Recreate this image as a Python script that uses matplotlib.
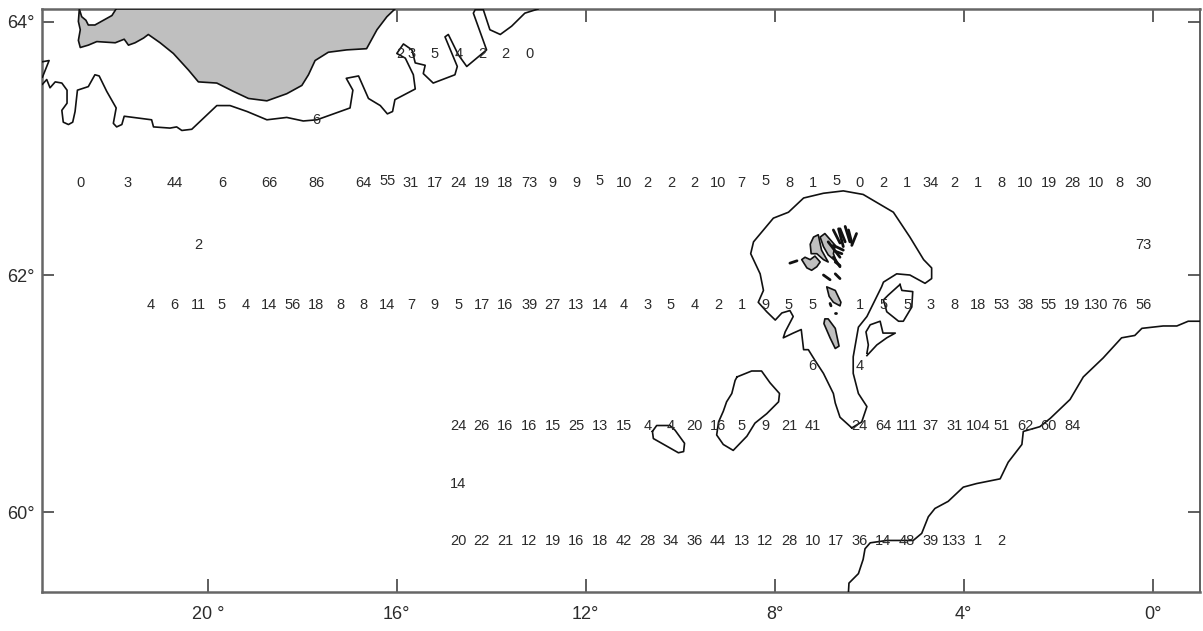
"""Station counts on a map of the Iceland-Faroe-Shetland area."""
import matplotlib
matplotlib.use("Agg")
import matplotlib.pyplot as plt

plt.rcParams["font.family"] = ["Liberation Sans", "DejaVu Sans"]

# y is map northing: the chart's latitude scale is stretched towards the north,
# so the 64 degree tick does not sit at exactly 64.
XTICKS = [20, 16, 12, 8, 4, 0]
XTICK_LABELS = ["20 °", "16°", "12°", "8°", "4°", "0°"]
YTICKS = [60, 62, 64.137]
YTICK_LABELS = ["60°", "62°", "64°"]

# ---- station rows ----
row1_lon = [22.7, 21.7, 20.7, 19.7, 18.7, 17.7, 16.7, 16.2, 15.7, 15.2, 14.7, 14.2, 13.7, 13.2, 12.7, 12.2,
            11.7, 11.2, 10.7, 10.2, 9.7, 9.2, 8.7, 8.2, 7.7, 7.2, 6.7, 6.2, 5.7, 5.2, 4.7, 4.2,
            3.7, 3.2, 2.7, 2.2, 1.7, 1.2, 0.7, 0.2]
row1_lat = [62.78, 62.78, 62.78, 62.78, 62.78, 62.78, 62.78, 62.79, 62.78, 62.78, 62.78, 62.78, 62.78, 62.78, 62.78, 62.78,
            62.79, 62.78, 62.78, 62.78, 62.78, 62.78, 62.78, 62.79, 62.78, 62.78, 62.79, 62.78, 62.78, 62.78, 62.78, 62.78,
            62.78, 62.78, 62.78, 62.78, 62.78, 62.78, 62.78, 62.78]
row1_val = [0, 3, 44, 6, 66, 86, 64, 55, 31, 17, 24, 19, 18, 73, 9, 9,
            5, 10, 2, 2, 2, 10, 7, 5, 8, 1, 5, 0, 2, 1, 34, 2,
            1, 8, 10, 19, 28, 10, 8, 30]

row2_lon = [21.2, 20.7, 20.2, 19.7, 19.2, 18.7, 18.2, 17.7, 17.2, 16.7, 16.2, 15.7, 15.2, 14.7, 14.2, 13.7,
            13.2, 12.7, 12.2, 11.7, 11.2, 10.7, 10.2, 9.7, 9.2, 8.7, 8.2, 7.7, 7.2, 6.2, 5.7, 5.2,
            4.7, 4.2, 3.7, 3.2, 2.7, 2.2, 1.7, 1.2, 0.7, 0.2]
row2_lat = 61.75
row2_val = [4, 6, 11, 5, 4, 14, 56, 18, 8, 8, 14, 7, 9, 5, 17, 16,
            39, 27, 13, 14, 4, 3, 5, 4, 2, 1, 9, 5, 5, 1, 5, 5,
            3, 8, 18, 53, 38, 55, 19, 130, 76, 56]

row3_lon = [14.7, 14.2, 13.7, 13.2, 12.7, 12.2, 11.7, 11.2, 10.7, 10.2, 9.7, 9.2, 8.7, 8.2, 7.7, 7.2,
            6.2, 5.7, 5.2, 4.7, 4.2, 3.7, 3.2, 2.7, 2.2, 1.7]
row3_lat = 60.73
row3_val = [24, 26, 16, 16, 15, 25, 13, 15, 4, 4, 20, 16, 5, 9, 21, 41,
            24, 64, 111, 37, 31, 104, 51, 62, 60, 84]

row4_lon = [14.7, 14.2, 13.7, 13.2, 12.7, 12.2, 11.7, 11.2, 10.7, 10.2, 9.7, 9.2, 8.7, 8.2, 7.7, 7.2,
            6.7, 6.2, 5.7, 5.2, 4.7, 4.2, 3.7, 3.2]
row4_lat = 59.755
row4_val = [20, 22, 21, 12, 19, 16, 18, 42, 28, 34, 36, 44, 13, 12, 28, 10,
            17, 36, 14, 48, 39, 133, 1, 2]

top_lon = [15.93, 15.68, 15.2, 14.7, 14.2, 13.7, 13.2]
top_lat = 63.865
top_val = [2, 3, 5, 4, 2, 2, 0]

extra_lon = [20.2, 0.2, 7.2, 6.2, 14.7, 17.7]
extra_lat = [62.25, 62.25, 61.23, 61.23, 60.24, 63.31]
extra_val = [2, 73, 6, 4, 14, 6]

# ---- land ----
iceland_lon = [22.72, 22.67, 22.58, 22.53, 22.39, 22.21, 22.03, 21.95, 21.95, 16.04, 16.21, 16.42, 16.64, 17.06,
               17.45, 17.73, 17.87, 18.01, 18.33, 18.75, 19.14, 19.46, 19.81, 20.20, 20.41, 20.73, 21.01, 21.26,
               21.36, 21.54, 21.68, 21.77, 21.96, 22.35, 22.53, 22.70, 22.74, 22.70, 22.74, 22.72]
iceland_lat = [64.245, 64.18, 64.15, 64.11, 64.11, 64.15, 64.19, 64.24, 64.245, 64.245, 64.18, 64.07, 63.91, 63.90,
               63.88, 63.81, 63.69, 63.60, 63.53, 63.47, 63.49, 63.55, 63.62, 63.63, 63.73, 63.87, 63.96, 64.03,
               64.00, 63.96, 63.94, 63.99, 63.96, 63.97, 63.94, 63.92, 63.98, 64.07, 64.14, 64.245]

vagar_lon = [7.43, 7.36, 7.25, 7.15, 7.04, 7.11, 7.22, 7.32, 7.43]
vagar_lat = [62.13, 62.15, 62.13, 62.16, 62.11, 62.07, 62.04, 62.06, 62.13]
streymoy_lon = [7.25, 7.18, 7.08, 7.01, 6.87, 6.97, 7.11, 7.23, 7.25]
streymoy_lat = [62.26, 62.32, 62.34, 62.21, 62.11, 62.13, 62.18, 62.18, 62.26]
eysturoy_lon = [7.04, 6.94, 6.83, 6.72, 6.76, 6.69, 6.87, 6.97, 7.04]
eysturoy_lat = [62.32, 62.35, 62.30, 62.25, 62.18, 62.11, 62.17, 62.24, 62.32]
sandoy_lon = [6.90, 6.72, 6.60, 6.62, 6.76, 6.85, 6.90]
sandoy_lat = [61.90, 61.87, 61.77, 61.74, 61.77, 61.82, 61.90]
suduroy_lon = [6.94, 6.87, 6.72, 6.64, 6.72, 6.83, 6.96, 6.94]
suduroy_lat = [61.63, 61.63, 61.55, 61.40, 61.38, 61.47, 61.59, 61.63]

# thin northern islands and skerries, one (lon, lat) pair of lists each
islets = [
    ([6.76, 6.62], [62.38, 62.27]),
    ([6.65, 6.55], [62.39, 62.24]),
    ([6.62, 6.51], [62.39, 62.28]),
    ([6.51, 6.41], [62.41, 62.28]),
    ([6.44, 6.37], [62.38, 62.27]),
    ([6.27, 6.37], [62.35, 62.25]),
    ([6.87, 6.62], [62.28, 62.15]),
    ([6.76, 6.55], [62.25, 62.21]),
    ([6.72, 6.58], [62.20, 62.18]),
    ([6.76, 6.62], [62.15, 62.07]),
    ([6.72, 6.62], [62.11, 62.08]),
    ([7.68, 7.53], [62.10, 62.12]),
    ([6.97, 6.83], [62.00, 61.96]),
    ([6.72, 6.62], [62.01, 61.97]),
    ([6.83, 6.81], [61.76, 61.74]),
    ([6.73, 6.71], [61.68, 61.68]),
]

# ---- depth contours ----
hook_lon = [23.50, 23.36, 23.41, 23.50]
hook_lat = [63.80, 63.81, 63.76, 63.67]

ice_shelf_lon = [23.50, 23.41, 23.34, 23.23, 23.09, 22.98, 22.98, 23.09, 23.06, 22.95, 22.86, 22.81, 22.76, 22.53,
                 22.39, 22.30, 22.14, 21.94, 22.00, 21.93, 21.82, 21.77, 21.19, 21.15, 20.80, 20.66, 20.55, 20.34,
                 19.81, 19.53, 19.17, 18.75, 18.33, 17.98, 17.69, 17.34, 16.99, 16.93, 17.07, 16.81, 16.60, 16.35,
                 16.20, 16.09, 16.04, 15.61, 15.65, 15.82, 16.00, 15.86, 15.68, 15.61, 15.40, 15.44, 15.23, 14.77,
                 14.72, 14.98, 14.91, 14.70, 14.52, 14.10, 14.38, 14.34, 14.17, 14.03, 13.81, 13.57, 13.29, 13.01]
ice_shelf_lat = [63.61, 63.65, 63.58, 63.63, 63.62, 63.56, 63.45, 63.39, 63.29, 63.27, 63.29, 63.38, 63.56, 63.59,
                 63.69, 63.68, 63.55, 63.41, 63.28, 63.25, 63.27, 63.34, 63.31, 63.25, 63.24, 63.25, 63.22, 63.23,
                 63.43, 63.43, 63.38, 63.31, 63.33, 63.30, 63.31, 63.36, 63.41, 63.56, 63.66, 63.68, 63.49, 63.43,
                 63.36, 63.38, 63.48, 63.57, 63.69, 63.83, 63.87, 63.95, 63.90, 63.79, 63.77, 63.70, 63.62, 63.69,
                 63.76, 64.01, 64.03, 63.86, 63.76, 63.90, 64.21, 64.24, 64.24, 64.07, 64.03, 64.10, 64.21, 64.245]

faroe_shelf_lon = [6.37, 6.62, 6.72, 6.76, 6.97, 7.15, 7.29, 7.39, 7.44, 7.61, 7.82, 7.78, 7.61, 7.68, 7.85, 7.99,
                   8.17, 8.35, 8.24, 8.31, 8.51, 8.45, 8.03, 7.71, 7.39, 6.97, 6.55, 6.13, 5.49, 5.14, 4.85, 4.68,
                   4.68, 4.82, 5.14, 5.42, 5.70, 5.74, 6.05, 6.23, 6.34, 6.34, 6.23, 6.05, 6.16, 6.37]
faroe_shelf_lat = [60.71, 60.80, 60.92, 61.00, 61.17, 61.28, 61.37, 61.37, 61.54, 61.51, 61.47, 61.52, 61.65, 61.70,
                   61.68, 61.62, 61.69, 61.77, 61.87, 62.01, 62.18, 62.28, 62.48, 62.53, 62.65, 62.69, 62.71, 62.68,
                   62.53, 62.32, 62.13, 62.06, 61.97, 61.93, 62.00, 62.01, 61.94, 61.90, 61.65, 61.56, 61.31, 61.17,
                   61.00, 60.89, 60.76, 60.71]

bank1_lon = [5.35, 5.31, 5.08, 5.10, 5.28, 5.38, 5.63, 5.70, 5.60, 5.35]
bank1_lat = [61.92, 61.87, 61.86, 61.73, 61.61, 61.61, 61.69, 61.79, 61.83, 61.92]
bank2_lon = [6.05, 6.02, 6.07, 5.98, 5.77, 5.71, 5.45, 5.63, 5.84, 6.05]
bank2_lat = [61.34, 61.41, 61.52, 61.58, 61.61, 61.51, 61.51, 61.47, 61.41, 61.32]
bank3_lon = [10.59, 10.57, 10.04, 9.93, 9.91, 10.11, 10.22, 10.50, 10.59]
bank3_lat = [60.68, 60.62, 60.50, 60.51, 60.58, 60.69, 60.73, 60.73, 60.68]
bank4_lon = [8.80, 8.49, 8.28, 8.10, 7.90, 7.92, 8.17, 8.42, 8.59, 8.88, 9.09, 9.23, 9.19, 9.09, 9.02, 8.91, 8.84, 8.80]
bank4_lat = [61.14, 61.19, 61.19, 61.09, 61.00, 60.93, 60.83, 60.75, 60.64, 60.52, 60.57, 60.65, 60.76, 60.85, 60.93,
             61.00, 61.11, 61.14]

scot_shelf_lon = [6.44, 6.43, 6.23, 6.13, 6.09, 5.98, 5.63, 5.07, 4.89, 4.75, 4.61, 4.33, 4.01, 3.73, 3.23, 3.06,
                  2.77, 2.74, 2.39, 2.17, 1.75, 1.47, 1.05, 0.66, 0.38, 0.23, -0.22, -0.51, -0.75, -1.00]
scot_shelf_lat = [59.33, 59.40, 59.48, 59.60, 59.69, 59.74, 59.76, 59.76, 59.82, 59.96, 60.03, 60.09, 60.21, 60.24,
                  60.28, 60.42, 60.57, 60.68, 60.72, 60.79, 60.95, 61.14, 61.30, 61.47, 61.49, 61.55, 61.57, 61.57,
                  61.61, 61.61]

LAND = "#bfbfbf"
INK = "#111111"
TEXT = "#2b2b2b"
LW = 1.2

fig = plt.figure(figsize=(12.03, 6.31), dpi=100)
ax = fig.add_axes([42 / 1203, 1 - 592 / 631, 1158 / 1203, 583 / 631])
ax.set_xlim(23.51, -1.0)
ax.set_ylim(59.325, 64.245)

# land
for lon, lat in [(iceland_lon, iceland_lat), (vagar_lon, vagar_lat), (streymoy_lon, streymoy_lat),
                 (eysturoy_lon, eysturoy_lat), (sandoy_lon, sandoy_lat), (suduroy_lon, suduroy_lat)]:
    ax.fill(lon, lat, facecolor=LAND, edgecolor=INK, linewidth=LW, joinstyle="round", zorder=3)
for lon, lat in islets:
    ax.plot(lon, lat, color=INK, linewidth=2.0, solid_capstyle="round", zorder=3)

# contours
for lon, lat in [(hook_lon, hook_lat), (ice_shelf_lon, ice_shelf_lat), (faroe_shelf_lon, faroe_shelf_lat),
                 (bank1_lon, bank1_lat), (bank2_lon, bank2_lat), (bank3_lon, bank3_lat), (bank4_lon, bank4_lat),
                 (scot_shelf_lon, scot_shelf_lat)]:
    ax.plot(lon, lat, color=INK, linewidth=LW, solid_joinstyle="round", zorder=3)

# station numbers
rows = [
    (row1_lon, row1_lat, row1_val),
    (row2_lon, [row2_lat] * len(row2_lon), row2_val),
    (row3_lon, [row3_lat] * len(row3_lon), row3_val),
    (row4_lon, [row4_lat] * len(row4_lon), row4_val),
    (top_lon, [top_lat] * len(top_lon), top_val),
    (extra_lon, extra_lat, extra_val),
]
for lons, lats, vals in rows:
    for lon, lat, val in zip(lons, lats, vals):
        ax.text(lon, lat, str(val), ha="center", va="center", fontsize=10.5, color=TEXT, zorder=4)

ax.set_xticks(XTICKS)
ax.set_xticklabels(XTICK_LABELS)
ax.set_yticks(YTICKS)
ax.set_yticklabels(YTICK_LABELS)
ax.tick_params(axis="both", direction="in", length=9.4, width=1.1, color="#333333", labelcolor=TEXT,
               labelsize=13, top=True, right=True)
ax.tick_params(axis="x", pad=10)
ax.tick_params(axis="y", pad=5, length=8.6)

for side in ["left", "bottom", "top"]:
    ax.spines[side].set_linewidth(1.8)
    ax.spines[side].set_color("#666666")
ax.spines["right"].set_linewidth(1.2)
ax.spines["right"].set_color("#444444")

fig.savefig("out.png", dpi=100)
